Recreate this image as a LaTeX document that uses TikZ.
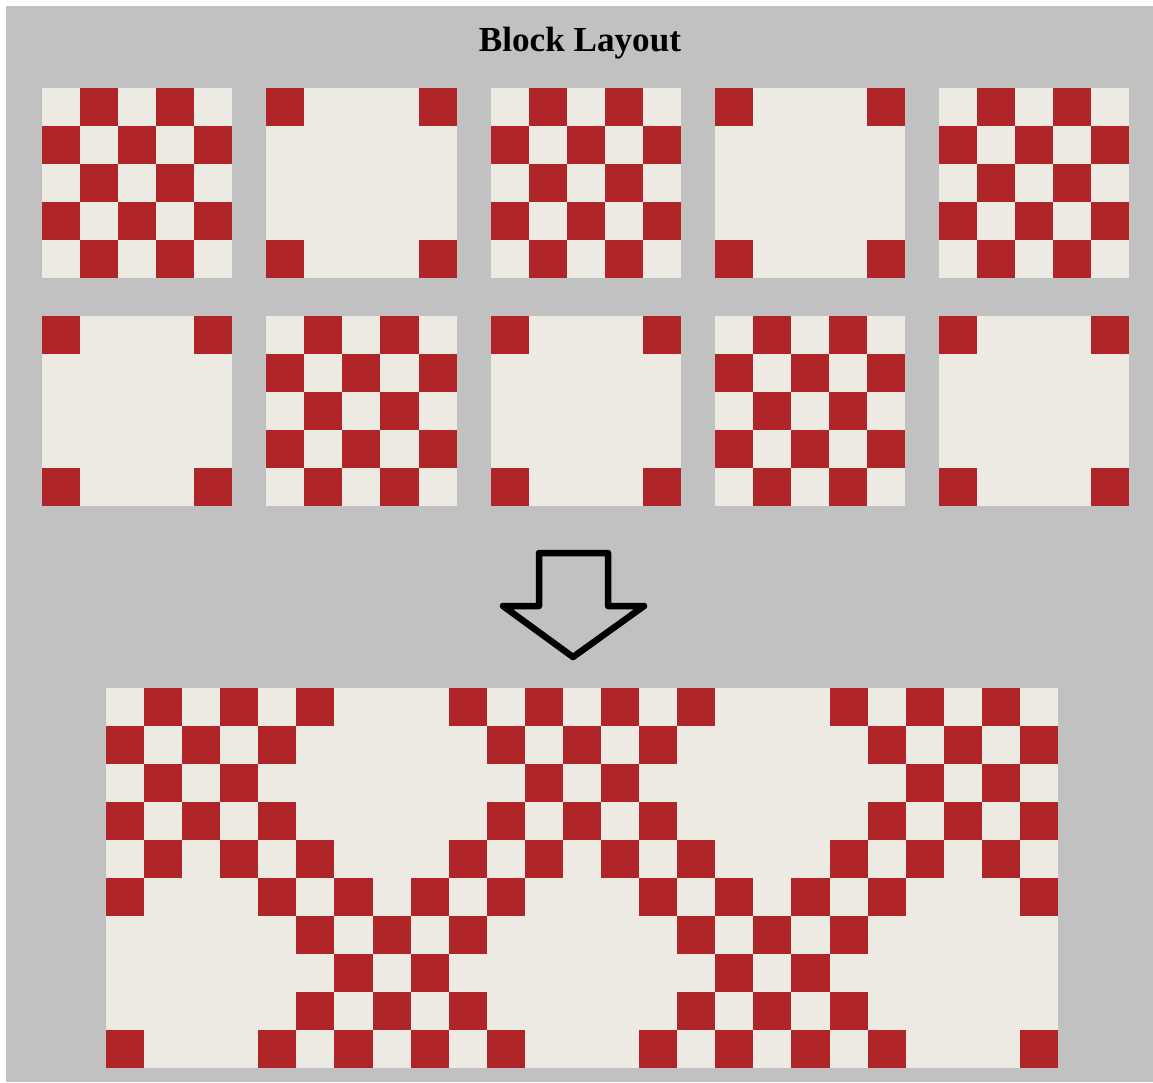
\documentclass[tikz,border=0pt]{standalone}
\usepackage{fontspec}
\setmainfont{Liberation Serif}
\definecolor{QuiltRed}{RGB}{176,38,40}
\definecolor{QuiltCream}{RGB}{236,234,227}
\definecolor{BackGray}{RGB}{193,193,193}
\usetikzlibrary{positioning}

% cells (column/row) that take the red fabric
\newcommand{\checkcells}{1/0,3/0,0/1,2/1,4/1,1/2,3/2,0/3,2/3,4/3,1/4,3/4}
\newcommand{\cornercells}{0/0,4/0,0/4,4/4}

\newcommand{\quiltblock}[3]{%
  \fill[QuiltCream] (#1,#2) rectangle ++(190.4,190);
  \foreach \cx/\cy in #3 {
    \fill[QuiltRed] (#1+38.08*\cx,#2+38*\cy) rectangle ++(38.08,38);
  }
}

\begin{document}
\begin{tikzpicture}[x=0.02cm, y=-0.02cm]
  \useasboundingbox (0,0) rectangle (1153,1082);
  \fill[white] (0,0) rectangle (1153,1082);
  \fill[BackGray] (6,6) rectangle (1153,1082);

  \node[font=\bfseries\fontsize{20}{24}\selectfont, anchor=base] (title) at (580,51) {Block Layout};

  % single blocks
  \foreach \r in {0,1} {
    \foreach \c in {0,...,4} {
      \pgfmathtruncatemacro{\kind}{mod(\r+\c,2)}
      \ifnum\kind=0 \edef\cells{\checkcells}\else\edef\cells{\cornercells}\fi
      \quiltblock{42+224.25*\c}{88+228*\r}{\cells}
    }
  }

  % arrow
  \draw[line width=3.7pt, line join=round] (539,553) -- (608,553) -- (608,606) -- (644,606)
    -- (573,657) -- (503,606) -- (539,606) -- cycle;

  % sewn together
  \foreach \r in {0,1} {
    \foreach \c in {0,...,4} {
      \pgfmathtruncatemacro{\kind}{mod(\r+\c,2)}
      \ifnum\kind=0 \edef\cells{\checkcells}\else\edef\cells{\cornercells}\fi
      \quiltblock{106+190.4*\c}{688+190*\r}{\cells}
    }
  }
\end{tikzpicture}
\end{document}
